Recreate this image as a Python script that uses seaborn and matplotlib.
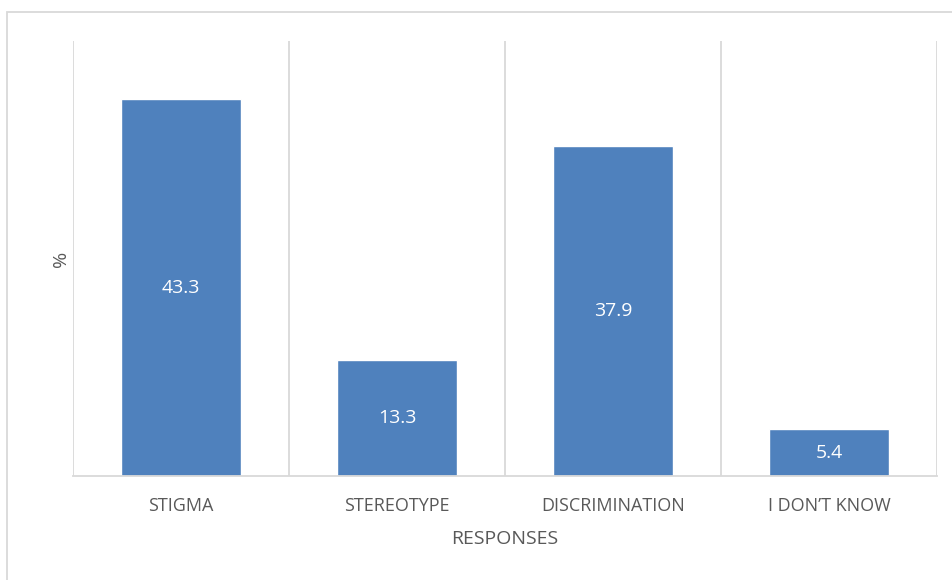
import matplotlib
matplotlib.use("Agg")
import matplotlib.pyplot as plt
from matplotlib.patches import Rectangle
from matplotlib.ticker import FixedLocator
import seaborn as sns
import pandas as pd

categories = ["STIGMA", "STEREOTYPE", "DISCRIMINATION", "I DON\u2019T KNOW"]
values = [43.3, 13.3, 37.9, 5.4]
value_labels = ["43.3", "13.3", "37.9", "5.4"]

sns.set_theme(style="white")
plt.rcParams["font.family"] = ["Open Sans", "DejaVu Sans"]

W, H = 952, 580
fig = plt.figure(figsize=(W / 100, H / 100), dpi=100)
fig.patch.set_facecolor("white")

# light frame around the chart area
fig.add_artist(Rectangle((7 / W, -0.05), 1.2, 1 - 12 / H + 0.05,
                         transform=fig.transFigure, fill=False,
                         edgecolor="#d9d9d9", linewidth=1.3))

ax = fig.add_axes([73 / W, 1 - 476 / H, (937 - 73) / W, (476 - 41) / H])

df = pd.DataFrame({"response": categories, "pct": values})
sns.barplot(data=df, x="response", y="pct", color="#4f81bd", width=0.56,
            saturation=1, ax=ax)

ax.set_xlim(-0.5, 3.5)
ax.set_ylim(0, 50)
ax.set_yticks([])

# vertical separators between categories
ax.xaxis.set_minor_locator(FixedLocator([-0.5, 0.5, 1.5, 2.5, 3.5]))
ax.grid(True, which="minor", axis="x", color="#d9d9d9", linewidth=1.3)
ax.grid(False, which="major")
ax.set_axisbelow(True)
ax.tick_params(axis="x", which="both", length=0, pad=15)

for s in ["top", "right", "left"]:
    ax.spines[s].set_visible(False)
ax.spines["bottom"].set_color("#d9d9d9")
ax.spines["bottom"].set_linewidth(1.3)

for lbl in ax.get_xticklabels():
    lbl.set_color("#595959")
    lbl.set_fontsize(13)

for i, (v, t) in enumerate(zip(values, value_labels)):
    ax.text(i, v / 2, t, ha="center", va="center", color="white", fontsize=14)

ax.set_xlabel("RESPONSES", color="#595959", fontsize=14, labelpad=11)
ax.set_ylabel("%", color="#595959", fontsize=14, labelpad=2)

fig.savefig("out.png", dpi=100, facecolor="white")
